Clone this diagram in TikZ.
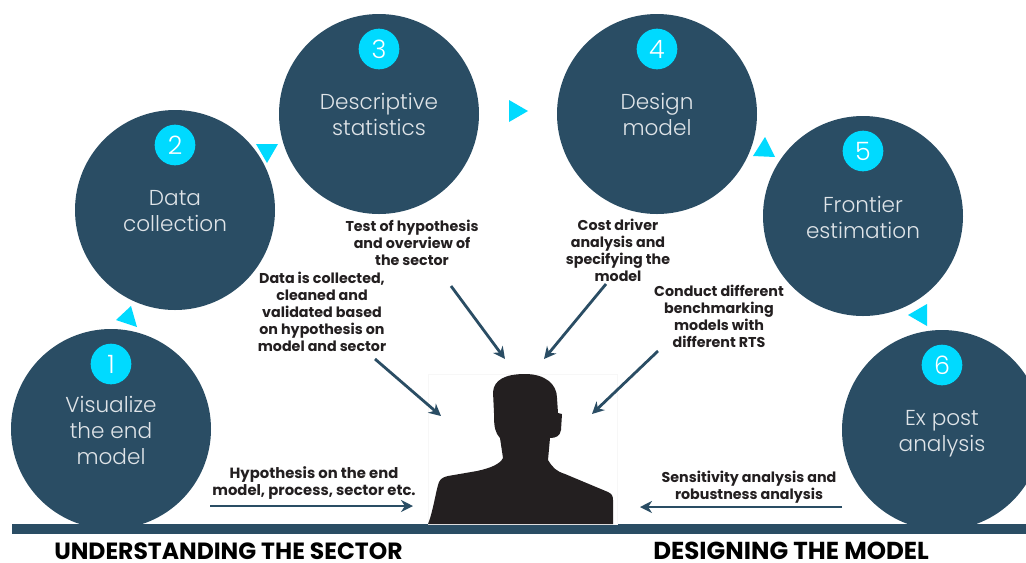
\documentclass[tikz,border=0pt]{standalone}
\usepackage{fontspec}
\setmainfont{Poppins}
\newfontfamily\lightfont{Poppins Light}
\usetikzlibrary{arrows.meta}
\definecolor{navy}{HTML}{2A4D64}
\definecolor{cyanT}{HTML}{00DAFF}
\definecolor{ink}{HTML}{231F20}
\tikzset{
 x=0.75pt,y=-0.75pt,
 stage/.style={circle,fill=navy,minimum size=150pt,inner sep=0pt},
 badge/.style={circle,fill=cyanT,minimum size=30.5pt,inner sep=0pt,text=white,font=\lightfont\fontsize{19}{19}\selectfont},
 title/.style={align=center,text=white!85!navy,font=\lightfont\fontsize{16.2}{19.5}\selectfont},
 note/.style={align=center,text=ink,font=\bfseries\fontsize{10.7}{12.75}\selectfont},
 notewide/.style={note,font=\bfseries\fontsize{11.1}{12.75}\selectfont},
 head/.style={anchor=west,inner sep=0pt,text=black,font=\bfseries\fontsize{17.6}{18}\selectfont},
 headwide/.style={head,font=\bfseries\fontsize{18.4}{18}\selectfont},
 tri/.style={fill=cyanT},
 conn/.style={draw=navy,line width=2.1pt,-{Stealth[length=9pt,width=9pt]}}
}
\begin{document}
\begin{tikzpicture}
\useasboundingbox (0,0) rectangle (1026,562);
\fill[white] (0,0) rectangle (1026,562);
\begin{scope}
\clip (0,0) rectangle (1026,562);
\node[stage] (c1) at (111,429) {};
\node[stage] (c2) at (175,210) {};
\node[stage] (c3) at (379,114) {};
\node[stage] (c4) at (657,114) {};
\node[stage] (c5) at (863,216) {};
\node[stage] (c6) at (942,430) {};
\end{scope}
\fill[white] (0,524) rectangle (1026,562);
\fill[navy] (12,524) rectangle (1026,534);
% silhouette
\draw[black!3,line width=.5pt] (428,374) rectangle (617,524);
\fill[ink] (428,524) .. controls (433,512) and (436,490) .. (439,482)
 .. controls (441,478) and (444,477) .. (448,476)
 -- (477,471) .. controls (491,468) and (500,464) .. (503,458)
 -- (500,438) .. controls (495,432) and (494,428) .. (494,413)
 -- (493,392) .. controls (494,380) and (505,374) .. (525,374)
 .. controls (545,374) and (557,384) .. (557,398)
 -- (558,413) -- (562,414) -- (561,430) .. controls (560,436) and (556,438) .. (550,438)
 -- (548,460) .. controls (553,468) and (556,471) .. (565,474)
 -- (608,492) .. controls (612,494) and (613,496) .. (613,500)
 -- (613,524) -- cycle;
% labels in circles
\node[badge] (b1) at (111,364) {1};
\node[badge] (b2) at (175,145) {2};
\node[badge] (b3) at (379,49) {3};
\node[badge] (b4) at (657,49) {4};
\node[badge] (b5) at (863,151) {5};
\node[badge] (b6) at (942,365) {6};
\node[title] (t1) at (111,430.5) {Visualize\\the end\\model};
\node[title] (t2) at (175,211) {Data\\collection};
\node[title] (t3) at (379,114.5) {Descriptive\\statistics};
\node[title] (t4) at (657,114.5) {Design\\model};
\node[title] (t5) at (863,217.5) {Frontier\\estimation};
\node[title] (t6) at (942,434) {Ex post\\analysis};
% triangles
\fill[tri] (131,306) -- (116,320) -- (137,327) -- cycle;
\fill[tri] (256,144) -- (278,144) -- (267,163) -- cycle;
\fill[tri] (509,100) -- (528,111) -- (509,122) -- cycle;
\fill[tri] (765,137) -- (775,157) -- (753,156) -- cycle;
\fill[tri] (908,315) -- (927,304) -- (927,326) -- cycle;
% notes
\node[notewide] (n1) at (314,483) {Hypothesis on the end\\model, process, sector etc.};
\node[note] (n2) at (322,312) {Data is collected,\\cleaned and\\validated based\\on hypothesis on\\model and sector};
\node[note] (n3) at (412,243) {Test of hypothesis\\and overview of\\the sector};
\node[note] (n4) at (618,250) {Cost driver\\analysis and\\specifying the\\model};
\node[note] (n5) at (719,316) {Conduct different\\benchmarking\\models with\\different RTS};
\node[note] (n6) at (749,487.5) {Sensitivity analysis and\\robustness analysis};
\node[head] (h1) at (54,551) {UNDERSTANDING THE SECTOR};
\node[headwide] (h2) at (653,551) {DESIGNING THE MODEL};
% connectors
\coordinate (a1s) at (210,506); \coordinate (a1e) at (413,506);
\coordinate (a2s) at (375,359); \coordinate (a2e) at (441,416);
\coordinate (a3s) at (451,286); \coordinate (a3e) at (505,359);
\coordinate (a4s) at (606,284); \coordinate (a4e) at (544,359);
\coordinate (a5s) at (658,351); \coordinate (a5e) at (592,414);
\coordinate (a6s) at (842,507); \coordinate (a6e) at (640,507);
\draw[conn] (a1s) -- (a1e);
\draw[conn] (a2s) -- (a2e);
\draw[conn] (a3s) -- (a3e);
\draw[conn] (a4s) -- (a4e);
\draw[conn] (a5s) -- (a5e);
\draw[conn] (a6s) -- (a6e);
\end{tikzpicture}
\end{document}
